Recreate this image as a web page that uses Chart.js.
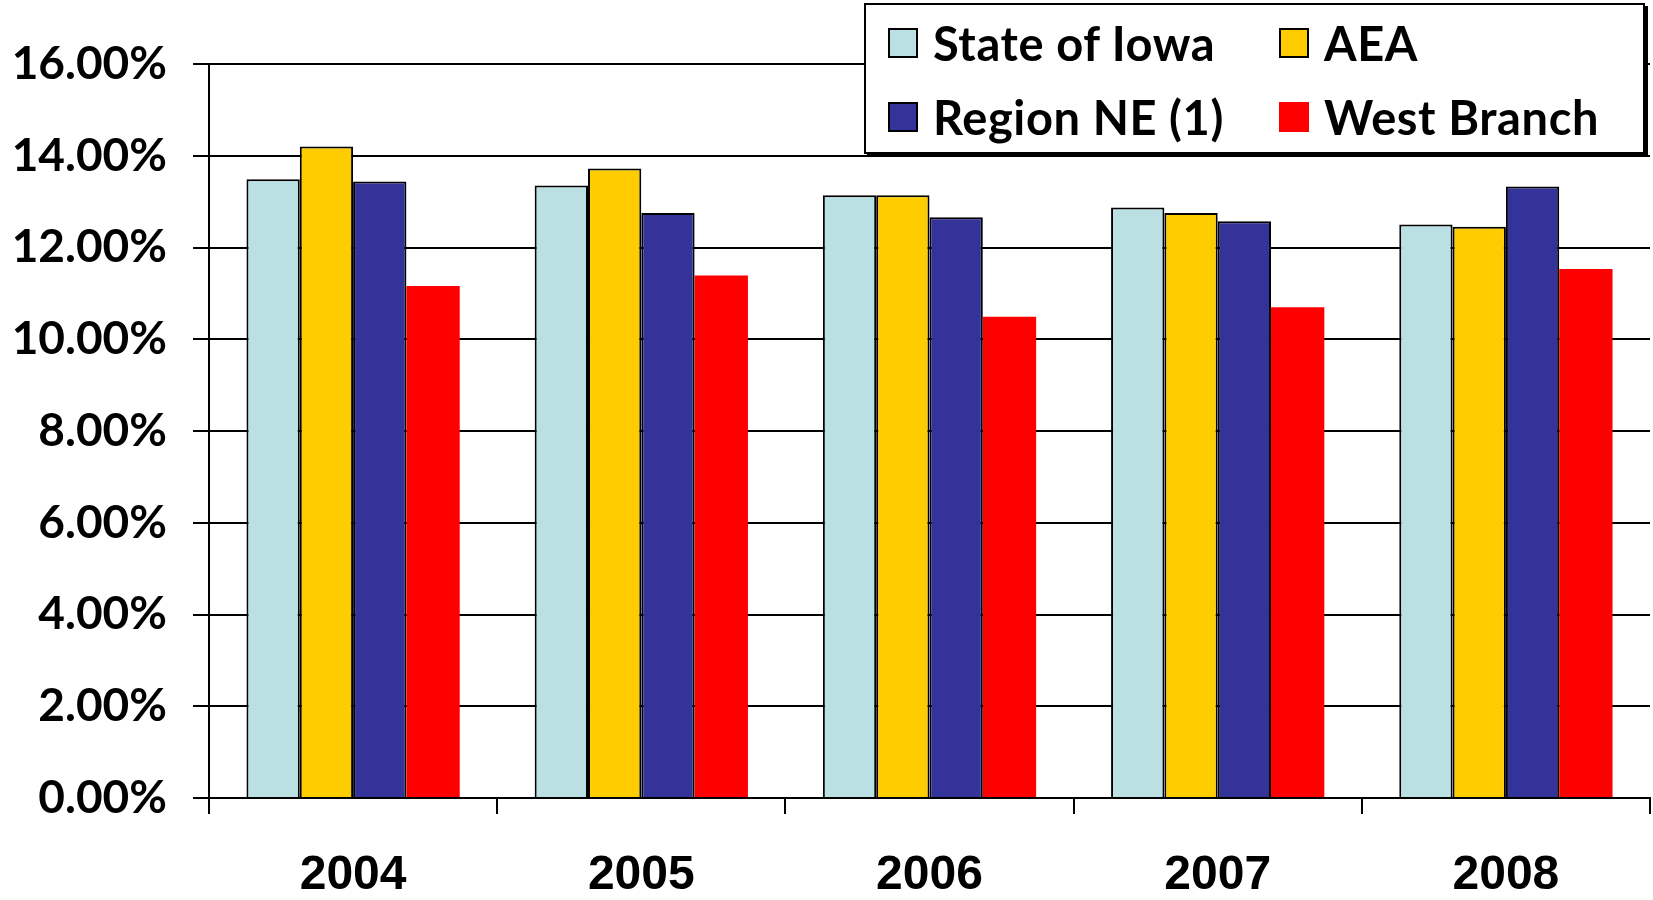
<!DOCTYPE html>
<html>
<head>
<meta charset="utf-8">
<script src="https://cdn.jsdelivr.net/npm/chart.js@4/dist/chart.umd.min.js"></script>
<style>
  html, body { margin: 0; padding: 0; background: #fff; }
  #wrap { position: relative; width: 1653px; height: 900px; }
  canvas { position: absolute; left: 0; top: 0; }
  #legend {
    position: absolute; left: 864px; top: 3px; width: 777px; height: 147px;
    border: 2px solid #000; background: #fff; box-shadow: 3px 3px 0 #000;
    font-family: Lato, "Open Sans", sans-serif; font-weight: 700; font-size: 47px; letter-spacing: 0.6px; color: #000;
  }
  .item { position: absolute; display: flex; align-items: center; height: 50px; white-space: nowrap; }
  .sw { width: 30px; height: 30px; box-sizing: border-box; margin-right: 15px; }
</style>
</head>
<body>
<div id="wrap">
  <canvas id="c" width="1653" height="900"></canvas>
  <div id="legend"></div>
</div>
<script>
const categories = ["2004", "2005", "2006", "2007", "2008"];
const seriesNames = ["State of Iowa", "AEA", "Region NE (1)", "West Branch"];
const stateOfIowa = [13.49, 13.35, 13.14, 12.87, 12.50];
const aea = [14.20, 13.72, 13.14, 12.75, 12.45];
const regionNE = [13.44, 12.75, 12.66, 12.57, 13.33];
const westBranch = [11.16, 11.39, 10.49, 10.70, 11.53];
const yTicks = [0, 2, 4, 6, 8, 10, 12, 14, 16];

const colors = ["#BBE0E3", "#FFCC00", "#333399", "#FF0000"];
const borders = ["#000", "#000", "#000", "#FF0000"];
const borderW = [2, 2, 2, 0];
const values = [stateOfIowa, aea, regionNE, westBranch];

const datasets = seriesNames.map((name, i) => ({
  label: name,
  data: values[i],
  backgroundColor: colors[i],
  borderColor: borders[i],
  borderWidth: borderW[i],
  borderSkipped: 'bottom',
  categoryPercentage: 0.74,
  barPercentage: 1.0
}));

new Chart(document.getElementById('c'), {
  type: 'bar',
  data: { labels: categories, datasets },
  options: {
    responsive: false,
    animation: false,
    layout: { padding: { top: 64, right: 3, left: 0, bottom: 0 } },
    plugins: { legend: { display: false }, tooltip: { enabled: false } },
    scales: {
      x: {
        offset: true,
        grid: { display: true, drawOnChartArea: false, color: '#000', lineWidth: 2, tickLength: 16, offset: true },
        border: { display: true, color: '#000', width: 2 },
        ticks: { color: '#000', font: { family: '"Liberation Sans Narrow", "Liberation Sans", Arial, sans-serif', weight: 'bold', size: 48 }, padding: 33 },
        afterFit: s => { s.height = 102; }
      },
      y: {
        min: 0, max: 16,
        afterBuildTicks: s => { s.ticks = yTicks.map(v => ({ value: v })); },
        grid: { color: '#000', lineWidth: 2, tickLength: 16 },
        border: { display: true, color: '#000', width: 2 },
        ticks: {
          color: '#000', padding: 26,
          font: { family: 'Lato, "Open Sans", sans-serif', weight: 'bold', size: 46 },
          callback: v => v.toFixed(2) + '%'
        },
        afterFit: s => { s.width = 209; }
      }
    }
  }
});

// HTML legend built from the series arrays
const legend = document.getElementById('legend');
const pos = [[22, 13], [413, 13], [22, 87], [413, 87]];
seriesNames.forEach((name, i) => {
  const it = document.createElement('div');
  it.className = 'item';
  it.style.left = pos[i][0] + 'px';
  it.style.top = pos[i][1] + 'px';
  const sw = document.createElement('span');
  sw.className = 'sw';
  sw.style.background = colors[i];
  sw.style.border = borderW[i] ? '2px solid #000' : 'none';
  const t = document.createElement('span');
  t.textContent = name;
  it.appendChild(sw); it.appendChild(t);
  legend.appendChild(it);
});
</script>
</body>
</html>
